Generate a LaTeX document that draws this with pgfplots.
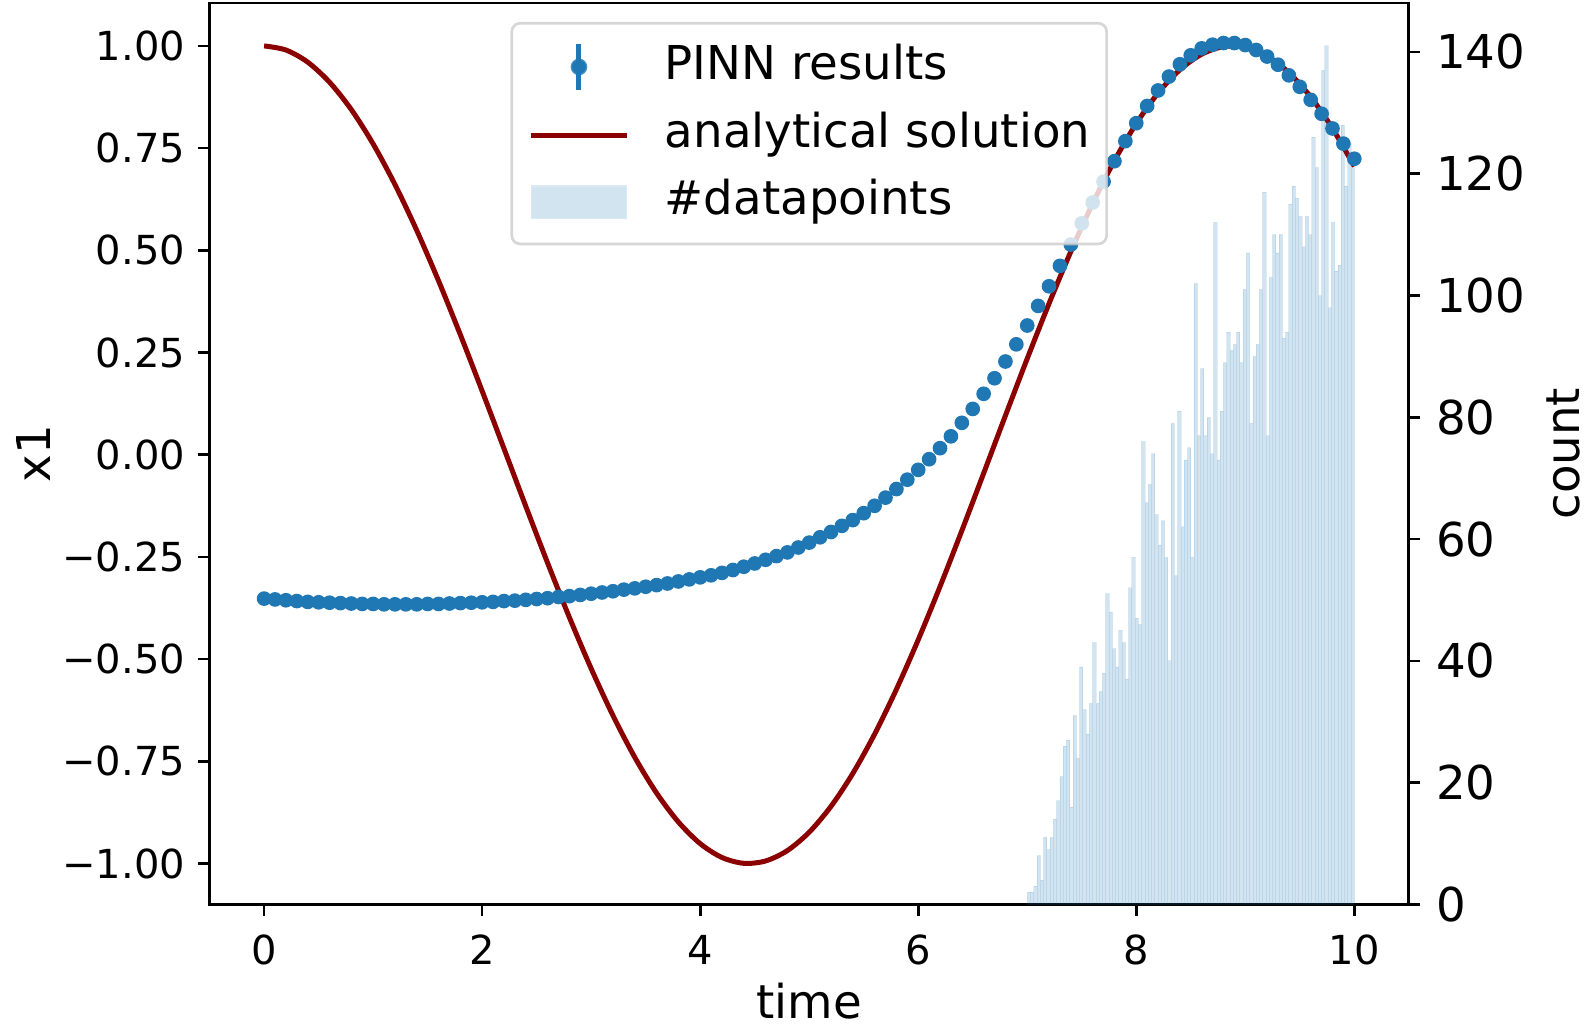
\documentclass[border=0pt]{standalone}
\usepackage{fontspec}
\setmainfont{DejaVu Sans}
\usepackage{pgfplots}
\usepackage{pgfplotstable}
\pgfplotsset{compat=1.18}

\definecolor{c0}{HTML}{1F77B4}
\definecolor{dred}{HTML}{8B0000}
\definecolor{legframe}{HTML}{CCCCCC}
\newcommand{\fsS}{\fontsize{12pt}{14.4pt}\selectfont}
\newcommand{\fsL}{\fontsize{14pt}{16.8pt}\selectfont}

\pgfplotsset{
  common/.style={
    at={(62.88pt,36.48pt)}, anchor=south west,
    scale only axis, width=359.76pt, height=270.42pt,
    xmin=-0.5, xmax=10.5,
    tick align=outside, major tick length=3.5pt,
    every tick/.style={black, line width=0.8pt},
    axis line style={black, line width=0.8pt},
    minor tick num=0,
  }
}

\pgfplotstableread{
x y
7.00 2
7.03 2
7.06 3
7.09 8
7.12 4
7.15 11
7.18 9
7.21 11
7.24 14
7.27 17
7.30 21
7.33 26
7.36 27
7.39 16
7.42 31
7.45 24
7.48 39
7.51 32
7.54 28
7.57 33
7.60 43
7.63 33
7.66 35
7.69 38
7.72 51
7.75 48
7.78 42
7.81 39
7.84 45
7.87 43
7.90 37
7.93 52
7.96 57
7.99 47
8.02 46
8.05 76
8.08 66
8.11 69
8.14 74
8.17 64
8.20 59
8.23 63
8.26 57
8.29 40
8.32 79
8.35 54
8.38 81
8.41 62
8.44 73
8.47 75
8.50 57
8.53 102
8.56 77
8.59 88
8.62 77
8.65 80
8.68 74
8.71 112
8.74 73
8.77 81
8.80 89
8.83 94
8.86 91
8.89 92
8.92 94
8.95 89
8.98 101
9.01 107
9.04 79
9.07 90
9.10 92
9.13 101
9.16 117
9.19 77
9.22 103
9.25 110
9.28 107
9.31 110
9.34 93
9.37 94
9.40 115
9.43 118
9.46 116
9.49 113
9.52 108
9.55 113
9.58 110
9.61 126
9.64 121
9.67 100
9.70 137
9.73 141
9.76 98
9.79 112
9.82 104
9.85 105
9.88 128
9.91 118
9.94 125
9.97 121
10.00 0
}\histdata

\pgfplotstableread{
t v
0.0 -0.352
0.1 -0.354
0.2 -0.356
0.3 -0.358
0.4 -0.360
0.5 -0.361
0.6 -0.362
0.7 -0.363
0.8 -0.364
0.9 -0.365
1.0 -0.365
1.1 -0.366
1.2 -0.366
1.3 -0.366
1.4 -0.366
1.5 -0.365
1.6 -0.365
1.7 -0.364
1.8 -0.363
1.9 -0.362
2.0 -0.361
2.1 -0.360
2.2 -0.358
2.3 -0.357
2.4 -0.355
2.5 -0.353
2.6 -0.351
2.7 -0.348
2.8 -0.346
2.9 -0.343
3.0 -0.340
3.1 -0.337
3.2 -0.334
3.3 -0.330
3.4 -0.327
3.5 -0.323
3.6 -0.319
3.7 -0.315
3.8 -0.310
3.9 -0.305
4.0 -0.300
4.1 -0.295
4.2 -0.289
4.3 -0.282
4.4 -0.274
4.5 -0.266
4.6 -0.257
4.7 -0.248
4.8 -0.239
4.9 -0.227
5.0 -0.215
5.1 -0.202
5.2 -0.189
5.3 -0.174
5.4 -0.160
5.5 -0.143
5.6 -0.125
5.7 -0.105
5.8 -0.084
5.9 -0.061
6.0 -0.037
6.1 -0.011
6.2 0.016
6.3 0.045
6.4 0.078
6.5 0.112
6.6 0.149
6.7 0.187
6.8 0.228
6.9 0.270
7.0 0.316
7.1 0.364
7.2 0.412
7.3 0.462
7.4 0.514
7.5 0.566
7.6 0.617
7.7 0.668
7.8 0.718
7.9 0.767
8.0 0.811
8.1 0.853
8.2 0.891
8.3 0.925
8.4 0.955
8.5 0.977
8.6 0.994
8.7 1.003
8.8 1.007
8.9 1.007
9.0 1.002
9.1 0.990
9.2 0.974
9.3 0.954
9.4 0.928
9.5 0.900
9.6 0.868
9.7 0.834
9.8 0.798
9.9 0.761
10.0 0.724
}\pinndata

\pgfplotstableread{
t v
0.0 1.0000
0.2 0.9900
0.4 0.9603
0.6 0.9113
0.8 0.8442
1.0 0.7602
1.2 0.6611
1.4 0.5487
1.6 0.4254
1.8 0.2936
2.0 0.1559
2.2 0.0152
2.4 -0.1259
2.6 -0.2645
2.8 -0.3978
3.0 -0.5231
3.2 -0.6380
3.4 -0.7402
3.6 -0.8276
3.8 -0.8984
4.0 -0.9514
4.2 -0.9853
4.4 -0.9995
4.6 -0.9938
4.8 -0.9683
5.0 -0.9234
5.2 -0.8601
5.4 -0.7796
5.6 -0.6835
5.8 -0.5738
6.0 -0.4527
6.2 -0.3225
6.4 -0.1858
6.6 -0.0455
6.8 0.0958
7.0 0.2351
7.2 0.3698
7.4 0.4971
7.6 0.6144
7.8 0.7195
8.0 0.8102
8.2 0.8847
8.4 0.9416
8.6 0.9797
8.8 0.9982
9.0 0.9967
9.2 0.9754
9.4 0.9346
9.6 0.8752
9.8 0.7982
10.0 0.7054
}\anadata

\begin{document}
\begin{tikzpicture}
\useasboundingbox (0,0) rectangle (476.4pt,307.8pt);
\begin{axis}[common,
  ymin=-1.1, ymax=1.105,
  xtick={0,2,4,6,8,10}, xticklabels={0,2,4,6,8,10},
  ytick={-1,-0.75,-0.5,-0.25,0,0.25,0.5,0.75,1},
  yticklabels={−1.00,−0.75,−0.50,−0.25,0.00,0.25,0.50,0.75,1.00},
  xtick pos=left, ytick pos=left,
  xticklabel style={font=\fsS, inner sep=0pt, anchor=north},
  yticklabel style={font=\fsS, inner sep=0pt, anchor=east},
  xticklabel shift=5.5pt, yticklabel shift=3.7pt,
  xlabel={time}, ylabel={x1},
  xlabel style={font=\fsL, inner sep=0pt, at={(axis description cs:0.5,-0.107)}, anchor=center},
  ylabel style={font=\fsL, inner sep=0pt, at={(axis description cs:-0.147,0.5)}, anchor=center},
]
\addplot[dred, line width=1.5pt, smooth, no marks] table[x=t,y=v] {\anadata};
\addplot[only marks, mark=*, mark size=2pt, color=c0, mark options={draw=c0, fill=c0}] table[x=t,y=v] {\pinndata};
\end{axis}

\begin{axis}[common,
  ymin=0, ymax=148.05,
  axis x line=none, axis y line*=right,
  ytick={0,20,40,60,80,100,120,140},
  yticklabels={0,20,40,60,80,100,120,140},
  yticklabel style={font=\fsL, inner sep=0pt, anchor=west},
  yticklabel shift=4.5pt,
  ylabel={count},
  ylabel style={font=\fsL, inner sep=0pt, at={(axis description cs:1.129,0.5)}, anchor=center},
  legend cell align=left,
  legend style={
    at={(axis description cs:0.5,0.979)}, anchor=north,
    draw=legframe, line width=0.8pt, rounded corners=2.5pt,
    fill=white, fill opacity=0.8, draw opacity=0.8, text opacity=1,
    font=\fsL, inner xsep=4.9pt, inner ysep=5.5pt, row sep=6.1pt,
    nodes={inner sep=0pt, text height=10.6pt, text depth=3.3pt},
    /tikz/every odd column/.append style={column sep=10.5pt},
  },
]
\addplot[ybar interval, fill=c0, fill opacity=0.2, draw=c0, draw opacity=0.12, line width=0.25pt, forget plot] table[x=x,y=y] {\histdata};
\addlegendimage{legend image code/.code={
  \draw[c0, line width=1.5pt, sharp corners, draw opacity=1] (14.5pt,-6.85pt) -- (14.5pt,6.85pt);
  \fill[c0, fill opacity=1] (14.5pt,0pt) circle (2.1pt);
}}
\addlegendentry{PINN results}
\addlegendimage{legend image code/.code={
  \draw[dred, line width=1.5pt, sharp corners, draw opacity=1] (0pt,0pt) -- (29pt,0pt);
}}
\addlegendentry{analytical solution}
\addlegendimage{legend image code/.code={
  \fill[c0!20, fill opacity=1, sharp corners] (0.5pt,-4.7pt) rectangle (28.5pt,4.7pt);
}}
\addlegendentry{\#datapoints}
\end{axis}
\end{tikzpicture}
\end{document}
